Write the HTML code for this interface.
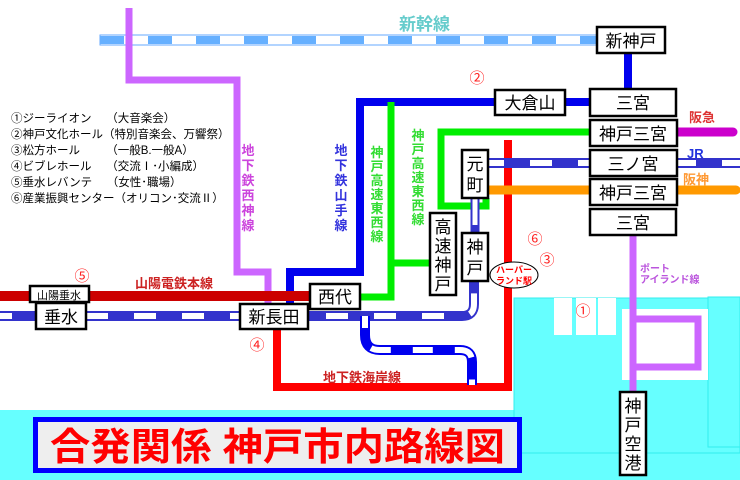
<!DOCTYPE html>
<html><head><meta charset="utf-8"><style>
html,body{margin:0;padding:0;background:#fff;}
svg{display:block;font-family:"Liberation Sans","Noto Sans CJK JP",sans-serif;}
.b{fill:#fff;stroke:#000;stroke-width:2.5;}
.st{font-size:17px;fill:#000;}
</style></head><body>
<svg width="740" height="480" viewBox="0 0 740 480" xmlns="http://www.w3.org/2000/svg">
<!-- cyan sea -->
<rect x="0" y="410" width="740" height="70" fill="#66ffff"/>
<rect x="514" y="298" width="226" height="112" fill="#66ffff"/>
<rect x="514" y="298" width="226" height="155" fill="none" stroke="#33eeee" stroke-width="1"/>
<rect x="708" y="297" width="32" height="150" fill="#66ffff" stroke="#33eeee" stroke-width="1"/>
<rect x="554" y="298" width="18" height="37" fill="#fff"/>
<rect x="576" y="298" width="20" height="37" fill="#fff"/>
<rect x="598" y="298" width="18" height="37" fill="#fff"/>
<rect x="622" y="309" width="86" height="71" fill="#fff"/>

<!-- shinkansen -->
<rect x="100" y="35" width="500" height="10" fill="#fff" stroke="#66aaff" stroke-width="1"/>
<line x1="100" y1="40" x2="600" y2="40" stroke="#66b0ff" stroke-width="8" stroke-dasharray="24 24"/>
<text x="399" y="30" font-size="17" font-weight="bold" fill="#66cccc">新幹線</text>

<!-- purple seishin -->
<polyline points="129,8 129,80 237,80 237,272 268,272 268,304" fill="none" stroke="#cc66ff" stroke-width="7"/>
<!-- blue yamate -->
<polyline points="290,304 290,272 360,272 360,102 590,102" fill="none" stroke="#0000ee" stroke-width="8"/>
<line x1="628" y1="52" x2="628" y2="90" stroke="#0000ee" stroke-width="8"/>

<!-- green -->
<polyline points="360,297 391,297 391,102" fill="none" stroke="#00ee00" stroke-width="7"/>
<line x1="391" y1="263" x2="430" y2="263" stroke="#00ee00" stroke-width="7"/>
<polyline points="590,132 441,132 441,206 486,206 486,198" fill="none" stroke="#00ee00" stroke-width="7"/>

<!-- red kaigan -->
<polyline points="508,140 508,387 277,387 277,322" fill="none" stroke="#ff0000" stroke-width="8"/>

<!-- sanyo -->
<line x1="0" y1="296" x2="320" y2="296" stroke="#cc0000" stroke-width="10"/>

<!-- JR -->
<path d="M0,316 L462,316 Q474,316 474,304 L474,281" fill="none" stroke="#3333cc" stroke-width="10"/>
<path d="M0,316 L462,316 Q474,316 474,304 L474,281" fill="none" stroke="#fff" stroke-width="6" stroke-dasharray="22 26" stroke-dashoffset="10"/>
<line x1="475" y1="198" x2="475" y2="233" stroke="#3333cc" stroke-width="9"/>
<line x1="475" y1="198" x2="475" y2="225" stroke="#fff" stroke-width="5"/>
<line x1="488" y1="163" x2="740" y2="163" stroke="#3333cc" stroke-width="10"/>
<line x1="488" y1="163" x2="740" y2="163" stroke="#fff" stroke-width="6" stroke-dasharray="22 26" stroke-dashoffset="6"/>

<!-- blue/white loop -->
<path d="M365,316 L365,335 Q365,350 380,350 L460,350 Q472,350 472,362 L472,385" fill="none" stroke="#0000ee" stroke-width="10"/>
<path d="M365,316 L365,335 Q365,350 380,350 L460,350 Q472,350 472,362 L472,385" fill="none" stroke="#fff" stroke-width="6" stroke-dasharray="20 22" stroke-dashoffset="8"/>

<!-- hanshin, hankyu -->
<line x1="488" y1="190" x2="590" y2="190" stroke="#ff9900" stroke-width="9" stroke-linecap="round"/>
<line x1="677" y1="190" x2="736" y2="190" stroke="#ff9900" stroke-width="9" stroke-linecap="round"/>
<line x1="677" y1="132" x2="733" y2="132" stroke="#cc00cc" stroke-width="9" stroke-linecap="round"/>

<!-- port liner -->
<line x1="633" y1="235" x2="633" y2="395" stroke="#cc66ff" stroke-width="7"/>
<polyline points="633,319 698,319 698,367 633,367" fill="none" stroke="#cc66ff" stroke-width="7"/>

<!-- boxes -->
<rect class="b" x="597" y="27" width="68" height="26"/><text class="st" x="631" y="47" text-anchor="middle">新神戸</text>
<rect class="b" x="495" y="90" width="70" height="25"/><text class="st" x="530" y="109" text-anchor="middle">大倉山</text>
<rect class="b" x="590" y="89" width="86" height="27"/><text class="st" x="633" y="109" text-anchor="middle">三宮</text>
<rect class="b" x="590" y="120" width="87" height="26"/><text class="st" x="633" y="140" text-anchor="middle">神戸三宮</text>
<rect class="b" x="590" y="150" width="87" height="26"/><text class="st" x="633" y="170" text-anchor="middle">三ノ宮</text>
<rect class="b" x="590" y="179" width="87" height="26"/><text class="st" x="633" y="199" text-anchor="middle">神戸三宮</text>
<rect class="b" x="590" y="209" width="86" height="26"/><text class="st" x="633" y="229" text-anchor="middle">三宮</text>
<rect class="b" x="462" y="150" width="26" height="48"/><text class="st" x="475" y="170" text-anchor="middle">元</text><text class="st" x="475" y="191" text-anchor="middle">町</text>
<rect class="b" x="462" y="233" width="26" height="48"/><text class="st" x="475" y="253" text-anchor="middle">神</text><text class="st" x="475" y="274" text-anchor="middle">戸</text>
<rect class="b" x="430" y="213" width="26" height="82"/><text class="st" x="443" y="233" text-anchor="middle">高</text><text class="st" x="443" y="252" text-anchor="middle">速</text><text class="st" x="443" y="271" text-anchor="middle">神</text><text class="st" x="443" y="290" text-anchor="middle">戸</text>
<rect class="b" x="310" y="284" width="50" height="25"/><text class="st" x="335" y="303" text-anchor="middle">西代</text>
<rect class="b" x="240" y="304" width="68" height="25"/><text class="st" x="274" y="323" text-anchor="middle">新長田</text>
<rect class="b" x="30" y="286" width="59" height="16"/><text x="59" y="299" font-size="11" text-anchor="middle">山陽垂水</text>
<rect class="b" x="36" y="303" width="50" height="26"/><text class="st" x="61" y="323" text-anchor="middle">垂水</text>
<rect class="b" x="620" y="392" width="26" height="83"/><text class="st" x="633" y="412" text-anchor="middle">神</text><text class="st" x="633" y="431" text-anchor="middle">戸</text><text class="st" x="633" y="450" text-anchor="middle">空</text><text class="st" x="633" y="469" text-anchor="middle">港</text>

<!-- harborland -->
<ellipse cx="514" cy="275" rx="24" ry="13" fill="#fff" stroke="#000" stroke-width="1"/>
<text x="514" y="273" font-size="9" font-weight="bold" fill="#ff0000" text-anchor="middle">ハーバー</text>
<text x="514" y="284" font-size="9" font-weight="bold" fill="#ff0000" text-anchor="middle">ランド駅</text>

<!-- line labels -->
<g font-size="13" font-weight="bold" text-anchor="middle">
<g fill="#cc44dd"><text x="248" y="155">地</text><text x="248" y="170">下</text><text x="248" y="185">鉄</text><text x="248" y="200">西</text><text x="248" y="215">神</text><text x="248" y="230">線</text></g>
<g fill="#3333dd"><text x="341" y="155">地</text><text x="341" y="170">下</text><text x="341" y="185">鉄</text><text x="341" y="200">山</text><text x="341" y="215">手</text><text x="341" y="230">線</text></g>
<g fill="#33dd33"><text x="377" y="157">神</text><text x="377" y="171">戸</text><text x="377" y="185">高</text><text x="377" y="199">速</text><text x="377" y="213">東</text><text x="377" y="227">西</text><text x="377" y="241">線</text>
<text x="418" y="140">神</text><text x="418" y="154">戸</text><text x="418" y="168">高</text><text x="418" y="182">速</text><text x="418" y="196">東</text><text x="418" y="210">西</text><text x="418" y="224">線</text></g>
</g>
<text x="135" y="288" font-size="13" font-weight="bold" fill="#cc2222">山陽電鉄本線</text>
<text x="323" y="382" font-size="13" font-weight="bold" fill="#cc2222">地下鉄海岸線</text>
<text x="689" y="122" font-size="13" font-weight="bold" fill="#dd3333">阪急</text>
<text x="687" y="158" font-size="13" font-weight="bold" fill="#2233dd">JR</text>
<text x="683" y="184" font-size="13" font-weight="bold" fill="#ff9933">阪神</text>
<text x="640" y="272" font-size="10" font-weight="bold" fill="#bb55dd">ポート</text>
<text x="640" y="283" font-size="10" font-weight="bold" fill="#bb55dd">アイランド線</text>

<!-- circled numbers -->
<g font-size="15" fill="#ff2222" text-anchor="middle">
<text x="477" y="83">②</text><text x="82" y="281">⑤</text><text x="257" y="350">④</text><text x="535" y="244">⑥</text><text x="547" y="265">③</text><text x="583" y="316">①</text>
</g>

<!-- legend -->
<g font-size="11.5" fill="#000">
<text x="11" y="122">①ジーライオン　 （大音楽会）</text>
<text x="11" y="138">②神戸文化ホール（特別音楽会、万響祭）</text>
<text x="11" y="154">③松方ホール　　 （一般B.一般A）</text>
<text x="11" y="170">④ビブレホール　 （交流Ⅰ･小編成）</text>
<text x="11" y="186">⑤垂水レバンテ　 （女性･職場）</text>
<text x="11" y="202">⑥産業振興センター（オリコン･交流Ⅱ）</text>
</g>

<!-- title -->
<rect x="35.5" y="419.5" width="484" height="51" fill="#eeeeee" stroke="#0000ff" stroke-width="5"/>
<text x="50" y="460" font-size="38" font-weight="bold" fill="#ff0000" textLength="455" lengthAdjust="spacingAndGlyphs">合発関係 神戸市内路線図</text>
</svg>
</body></html>
